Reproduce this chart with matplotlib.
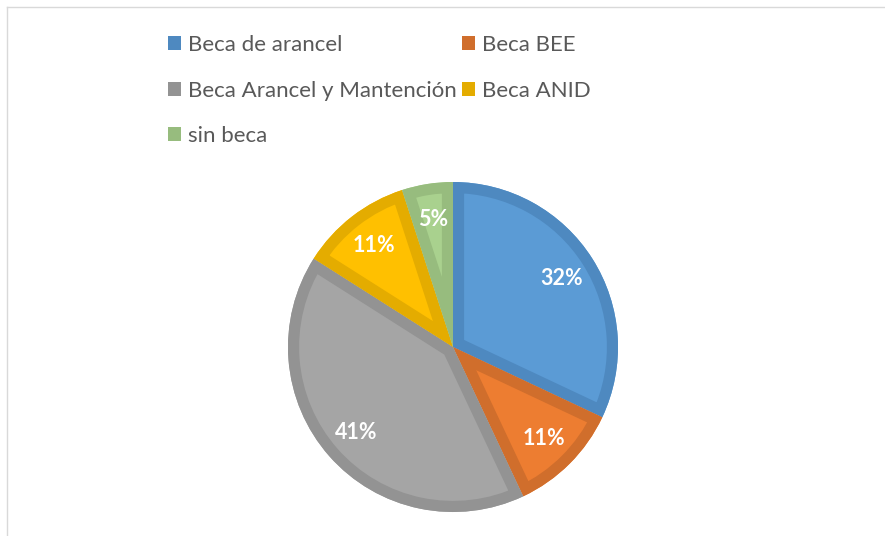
import matplotlib
matplotlib.use('Agg')
import matplotlib.pyplot as plt
from matplotlib.patches import Wedge, Rectangle
from matplotlib.lines import Line2D

### DATA ###

labels = ['Beca de arancel', 'Beca BEE', 'Beca Arancel y Mantención', 'Beca ANID', 'sin beca']
values = [32, 11, 41, 11, 5]

fill_colors = ['#5B9BD5', '#ED7D31', '#A5A5A5', '#FFC000', '#A9D18E']
edge_colors = ['#4E89C0', '#D06E2C', '#939393', '#E4AC00', '#97BC7E']

plt.rcParams['font.family'] = ['Lato', 'DejaVu Sans']

### FIGURE ###

W, H = 885, 536
fig = plt.figure(figsize=(W / 100, H / 100), dpi=100)

# pie axes: center (453, 347), radius 165 px
cx, cy, r = 453, 347, 165
ax = fig.add_axes([(cx - r) / W, (H - cy - r) / H, 2 * r / W, 2 * r / H])

wedges, texts, autotexts = ax.pie(
  values, colors=fill_colors, startangle=90, counterclock=False,
  autopct='%1.0f%%', pctdistance=0.78, radius=1,
  wedgeprops=dict(linewidth=0),
  textprops=dict(color='white', fontsize=15.5, fontweight='bold'))

# inner darker border like the Office style
for w, ec in zip(wedges, edge_colors):
  border = Wedge(w.center, w.r, w.theta1, w.theta2, facecolor='none',
                 edgecolor=ec, linewidth=16)
  ax.add_patch(border)
  border.set_clip_path(w)

for t in autotexts:
  t.set_zorder(5)

ax.set_xlim(-1, 1)
ax.set_ylim(-1, 1)
ax.set_aspect('equal')
ax.axis('off')

# legend, row-wise order in two columns
handles = [Rectangle((0, 0), 1, 1, facecolor=c, edgecolor='none') for c in edge_colors]
order = [0, 2, 4, 1, 3]
fig.legend([handles[i] for i in order], [labels[i] for i in order],
           ncol=2, loc='upper left', bbox_to_anchor=(168 / W, 1 - 35 / H),
           frameon=False, borderpad=0, borderaxespad=0,
           fontsize=16, labelcolor='#595959',
           handlelength=0.6, handleheight=0.6, handletextpad=0.32,
           labelspacing=1.15, columnspacing=0.2)

# chart frame
fig.add_artist(Line2D([7 / W, 1], [1 - 7 / H, 1 - 7 / H], color='#D9D9D9', lw=1))
fig.add_artist(Line2D([7 / W, 7 / W], [0, 1 - 7 / H], color='#D9D9D9', lw=1))

fig.savefig('out.png', dpi=100, facecolor='white')
